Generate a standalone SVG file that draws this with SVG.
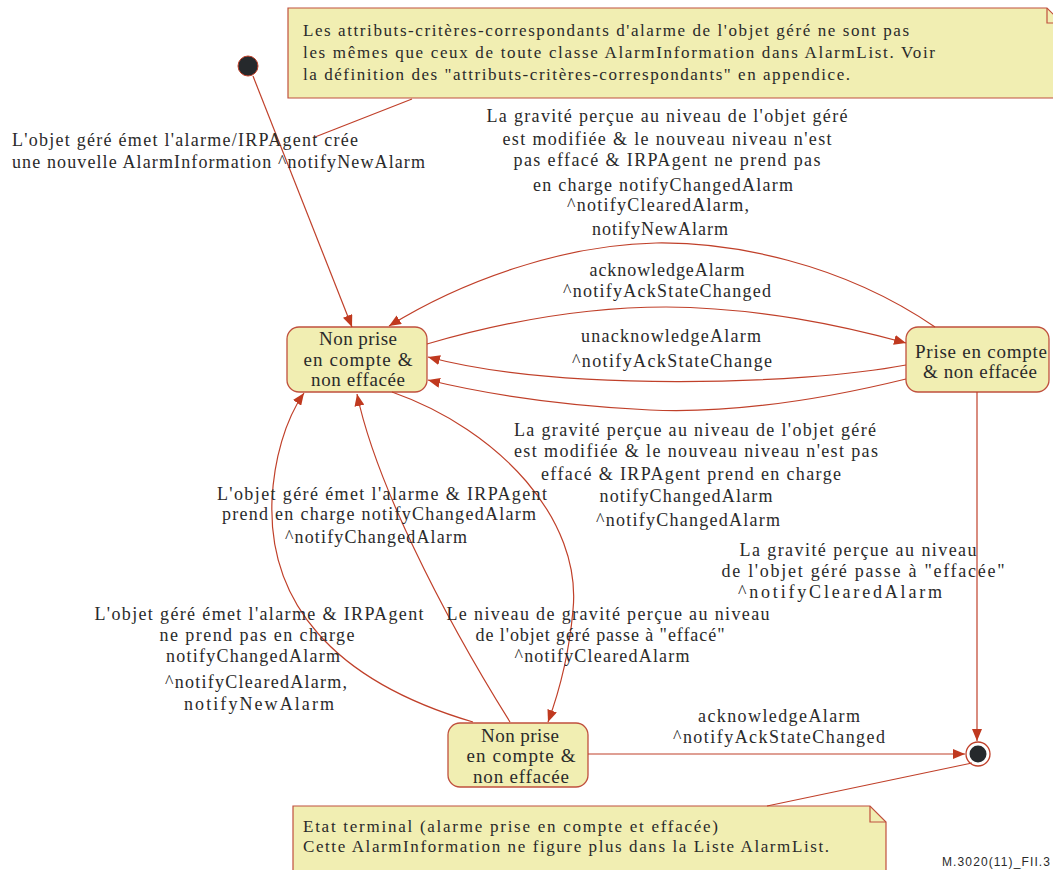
<svg xmlns="http://www.w3.org/2000/svg" width="1053" height="870" viewBox="0 0 1053 870" font-family="Liberation Serif, DejaVu Serif, serif">
  <style>
    .bg { fill: #ffffff; }
    .state { fill: #f1eeb2; stroke: #c0503e; stroke-width: 1.3; }
    .note { fill: #f1eeb2; stroke: #c0503e; stroke-width: 1.2; }
    .fold { fill: none; stroke: #c0503e; stroke-width: 1.2; }
    .edge { fill: none; stroke: #c0402a; stroke-width: 1.2; }
    .anchor { fill: none; stroke: #c0402a; stroke-width: 1.2; }
    .t { font-size: 18px; fill: #2a2a2a; }
    .tn { font-size: 17px; fill: #2a2a2a; }
    .ts { font-size: 19px; fill: #2a2a2a; }
    .c { text-anchor: middle; }
    .ref { font-size: 12px; fill: #2a2a2a; }
  </style>
  <defs>
    <marker id="arr" viewBox="0 0 12 10" refX="12" refY="5" markerWidth="12" markerHeight="10" markerUnits="userSpaceOnUse" orient="auto">
      <path d="M0,0 L12,5 L0,10 Z" fill="#c0391f"/>
    </marker>
  </defs>

  <rect class="bg" x="0" y="0" width="1053" height="870"/>

  <!-- comment notes -->
  <g id="note-criteria">
    <path class="note" d="M288,8 H1047 L1062,23 V98 H288 Z"/>
    <path class="fold" d="M1047,8 V23 H1062"/>
    <text class="tn" x="303" y="36" textLength="606">Les attributs-critères-correspondants d'alarme de l'objet géré ne sont pas</text>
    <text class="tn" x="303" y="58" textLength="632">les mêmes que ceux de toute classe AlarmInformation dans AlarmList. Voir</text>
    <text class="tn" x="303" y="80" textLength="547">la définition des "attributs-critères-correspondants" en appendice.</text>
  </g>
  <g id="note-final">
    <path class="note" d="M293,806 H870 L886,822 V875 H293 Z"/>
    <path class="fold" d="M870,806 V822 H886"/>
    <text class="tn" x="303" y="832" textLength="415">Etat terminal (alarme prise en compte et effacée)</text>
    <text class="tn" x="303" y="852" textLength="526">Cette AlarmInformation ne figure plus dans la Liste AlarmList.</text>
  </g>

  <!-- pseudo-states -->
  <g id="initial">
    <circle cx="248" cy="66" r="10" fill="#26292c" stroke="#c0402a" stroke-width="1"/>
  </g>
  <g id="final">
    <circle cx="978" cy="754" r="12" fill="#ffffff" stroke="#c0402a" stroke-width="1.3"/>
    <circle cx="978" cy="754" r="8.5" fill="#26292c"/>
  </g>

  <!-- states -->
  <g id="state-unack-uncleared">
    <rect class="state" x="287" y="327" width="140" height="65" rx="12"/>
    <text class="ts c" x="358" y="345" textLength="78">Non prise</text>
    <text class="ts c" x="358" y="366" textLength="109">en compte &amp;</text>
    <text class="ts c" x="358" y="386" textLength="94">non effacée</text>
  </g>
  <g id="state-ack-uncleared">
    <rect class="state" x="906" y="327" width="143" height="65" rx="12"/>
    <text class="ts c" x="981" y="358" textLength="132">Prise en compte</text>
    <text class="ts c" x="980" y="378" textLength="114">&amp; non effacée</text>
  </g>
  <g id="state-unack-cleared">
    <rect class="state" x="448" y="723" width="140" height="64" rx="12"/>
    <text class="ts c" x="520" y="742" textLength="78">Non prise</text>
    <text class="ts c" x="521" y="762" textLength="109">en compte &amp;</text>
    <text class="ts c" x="521" y="783" textLength="96">non effacée</text>
  </g>

  <!-- transitions -->
  <g id="connectors">
    <path class="anchor" d="M412,99 L315,137"/>
    <path class="anchor" d="M767,806 L972,763"/>
    <path class="edge" marker-end="url(#arr)" d="M253,76 L352,327"/>
    <path class="edge" marker-end="url(#arr)" d="M935,327 C840,262 730,242 656,243 C560,245 460,282 389,326"/>
    <path class="edge" marker-end="url(#arr)" d="M427,344 C520,317 600,307 666,307 C760,308 840,325 906,343"/>
    <path class="edge" marker-end="url(#arr)" d="M906,365 C800,385 560,392 428,357"/>
    <path class="edge" marker-end="url(#arr)" d="M906,379 C800,405 720,413 650,410 C570,406 490,395 428,380"/>
    <path class="edge" marker-end="url(#arr)" d="M392,392 C500,430 582,520 573,610 C569,655 558,695 548,722"/>
    <path class="edge" marker-end="url(#arr)" d="M510,722 C440,610 375,480 357,394"/>
    <path class="edge" marker-end="url(#arr)" d="M473,722 C330,680 268,600 272,500 C274,460 285,420 304,393"/>
    <path class="edge" marker-end="url(#arr)" d="M977,392 V741"/>
    <path class="edge" marker-end="url(#arr)" d="M588,754 H965"/>
  </g>

  <!-- transition labels -->
  <g id="labels">
    <text class="t" x="12" y="146" textLength="346">L'objet géré émet l'alarme/IRPAgent crée</text>
    <text class="t" x="12" y="168" textLength="413">une nouvelle AlarmInformation ^notifyNewAlarm</text>

    <text class="t c" x="667" y="122" textLength="361">La gravité perçue au niveau de l'objet géré</text>
    <text class="t c" x="667" y="145" textLength="329">est modifiée &amp; le nouveau niveau n'est</text>
    <text class="t c" x="667" y="166" textLength="307">pas effacé &amp; IRPAgent ne prend pas</text>
    <text class="t c" x="663" y="191" textLength="260">en charge notifyChangedAlarm</text>
    <text class="t c" x="658" y="211" textLength="182">^notifyClearedAlarm,</text>
    <text class="t c" x="660" y="235" textLength="136">notifyNewAlarm</text>

    <text class="t c" x="667" y="276" textLength="155">acknowledgeAlarm</text>
    <text class="t c" x="667" y="297" textLength="208">^notifyAckStateChanged</text>
    <text class="t c" x="671" y="342" textLength="180">unacknowledgeAlarm</text>
    <text class="t c" x="672" y="367" textLength="200">^notifyAckStateChange</text>

    <text class="t c" x="695" y="436" textLength="362">La gravité perçue au niveau de l'objet géré</text>
    <text class="t c" x="696" y="457" textLength="364">est modifiée &amp; le nouveau niveau n'est pas</text>
    <text class="t c" x="691" y="480" textLength="300">effacé &amp; IRPAgent prend en charge</text>
    <text class="t c" x="686" y="502" textLength="173">notifyChangedAlarm</text>
    <text class="t c" x="688" y="526" textLength="184">^notifyChangedAlarm</text>

    <text class="t c" x="858" y="556" textLength="237">La gravité perçue au niveau</text>
    <text class="t c" x="863" y="577" textLength="283">de l'objet géré passe à "effacée"</text>
    <text class="t c" x="840" y="598" textLength="204">^notifyClearedAlarm</text>

    <text class="t c" x="382" y="500" textLength="330">L'objet géré émet l'alarme &amp; IRPAgent</text>
    <text class="t c" x="379" y="520" textLength="314">prend en charge notifyChangedAlarm</text>
    <text class="t c" x="376" y="543" textLength="182">^notifyChangedAlarm</text>

    <text class="t c" x="259" y="620" textLength="329">L'objet géré émet l'alarme &amp; IRPAgent</text>
    <text class="t c" x="257" y="641" textLength="195">ne prend pas en charge</text>
    <text class="t c" x="253" y="662" textLength="174">notifyChangedAlarm</text>
    <text class="t c" x="256" y="688" textLength="182">^notifyClearedAlarm,</text>
    <text class="t c" x="259" y="710" textLength="150">notifyNewAlarm</text>

    <text class="t c" x="608" y="620" textLength="323">Le niveau de gravité perçue au niveau</text>
    <text class="t c" x="600" y="641" textLength="249">de l'objet géré passe à "effacé"</text>
    <text class="t c" x="602" y="662" textLength="175">^notifyClearedAlarm</text>

    <text class="t c" x="779" y="722" textLength="162">acknowledgeAlarm</text>
    <text class="t c" x="779" y="743" textLength="212">^notifyAckStateChanged</text>
  </g>

  <text class="ref" x="1050" y="866" text-anchor="end" textLength="108" font-family="Liberation Sans, Arial, sans-serif">M.3020(11)_FII.3</text>
</svg>
